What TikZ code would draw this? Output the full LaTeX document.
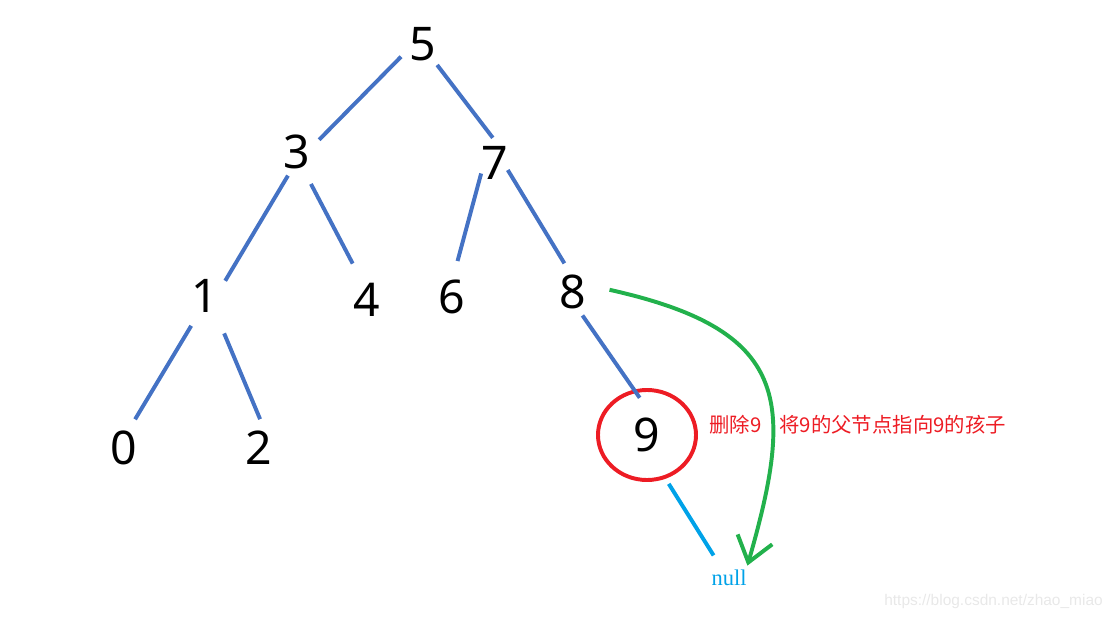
\documentclass[tikz,border=0pt]{standalone}
\usepackage{fontspec}
\setmainfont{Noto Sans}
\newfontfamily\cjkfont{Noto Sans CJK SC}
\newfontfamily\nullserif{Liberation Serif}
\newfontfamily\markfont{Liberation Sans}
\usetikzlibrary{arrows.meta,shapes.geometric}
\definecolor{edgeblue}{RGB}{68,114,196}
\definecolor{delred}{RGB}{237,28,36}
\definecolor{movegreen}{RGB}{34,177,76}
\definecolor{nullblue}{RGB}{0,162,232}

\begin{document}
\begin{tikzpicture}[
  x=0.025cm, y=-0.025cm,
  num/.style={
    circle, inner sep=0pt, minimum size=1.25cm,
    font=\fontsize{33}{33}\selectfont
  },
  delnode/.style={ellipse, draw=delred, line width=2.8pt,
    minimum width=2.45cm, minimum height=2.25cm},
  nulltext/.style={font=\nullserif\fontsize{16}{16}\selectfont, text=nullblue, inner sep=3pt},
  note/.style={font=\cjkfont\fontsize{14.5}{14.5}\selectfont, text=delred, inner sep=0pt, anchor=west},
  wmark/.style={font=\markfont\fontsize{11}{11}\selectfont, text=black!9, inner sep=0pt, anchor=east},
  edge/.style={edgeblue, line width=2.8pt},
  nulledge/.style={nullblue, line width=2.8pt},
  move/.style={movegreen, line width=2.8pt, -{Straight Barb[length=0.6cm, width=0.9cm]}},
]

\useasboundingbox (0,0) rectangle (1114,619);

\node[num] (n5) at (423,44)  {5};
\node[num] (n3) at (297,152) {3};
\node[num] (n7) at (495,163) {7};
\node[num] (n1) at (205,296) {1};
\node[num] (n4) at (367,300) {4};
\node[num] (n6) at (452,297) {6};
\node[num] (n8) at (573,292) {8};
\node[num] (n0) at (124,448) {0};
\node[num] (n2) at (259,448) {2};
\node[num, delnode] (n9) at (647,435) {9};
\node[nulltext] (nnull) at (729,578) {null};

\node[note] (del) at (709,425) {删除9\hspace{0.45cm}将9的父节点指向9的孩子};
\node[wmark] (wm) at (1103,601) {https://blog.csdn.net/zhao\_miao};

\draw[edge] (n5.210) -- (n3.29);
\draw[edge] (n5.304) -- (n7.95);
\draw[edge] (n3.249) -- (n1.37);
\draw[edge, shorten <=0.24cm, shorten >=0.35cm] (n3.292) -- (n4.108);
\draw[edge, shorten <=-0.23cm, shorten >=0.28cm] (n7.230) -- (n6.84);
\draw[edge, shorten <=-0.29cm, shorten >=0.12cm] (n7.318) -- (n8.104);
\draw[edge, shorten <=0.19cm, shorten >=0.14cm] (n1.247) -- (n0.71);
\draw[edge, shorten <=0.42cm, shorten >=0.1cm] (n1.300) -- (n2.84);
\draw[edge, shorten >=-0.25cm] (n8.292) -- (n9.106);
\draw[nulledge, shorten <=0.15cm, shorten >=0.3cm] (n9.293) -- (nnull.126);

\draw[move, shorten <=0.3cm] (n8.11) .. controls (790,330) and (795,400) .. (nnull.34);

\end{tikzpicture}
\end{document}
